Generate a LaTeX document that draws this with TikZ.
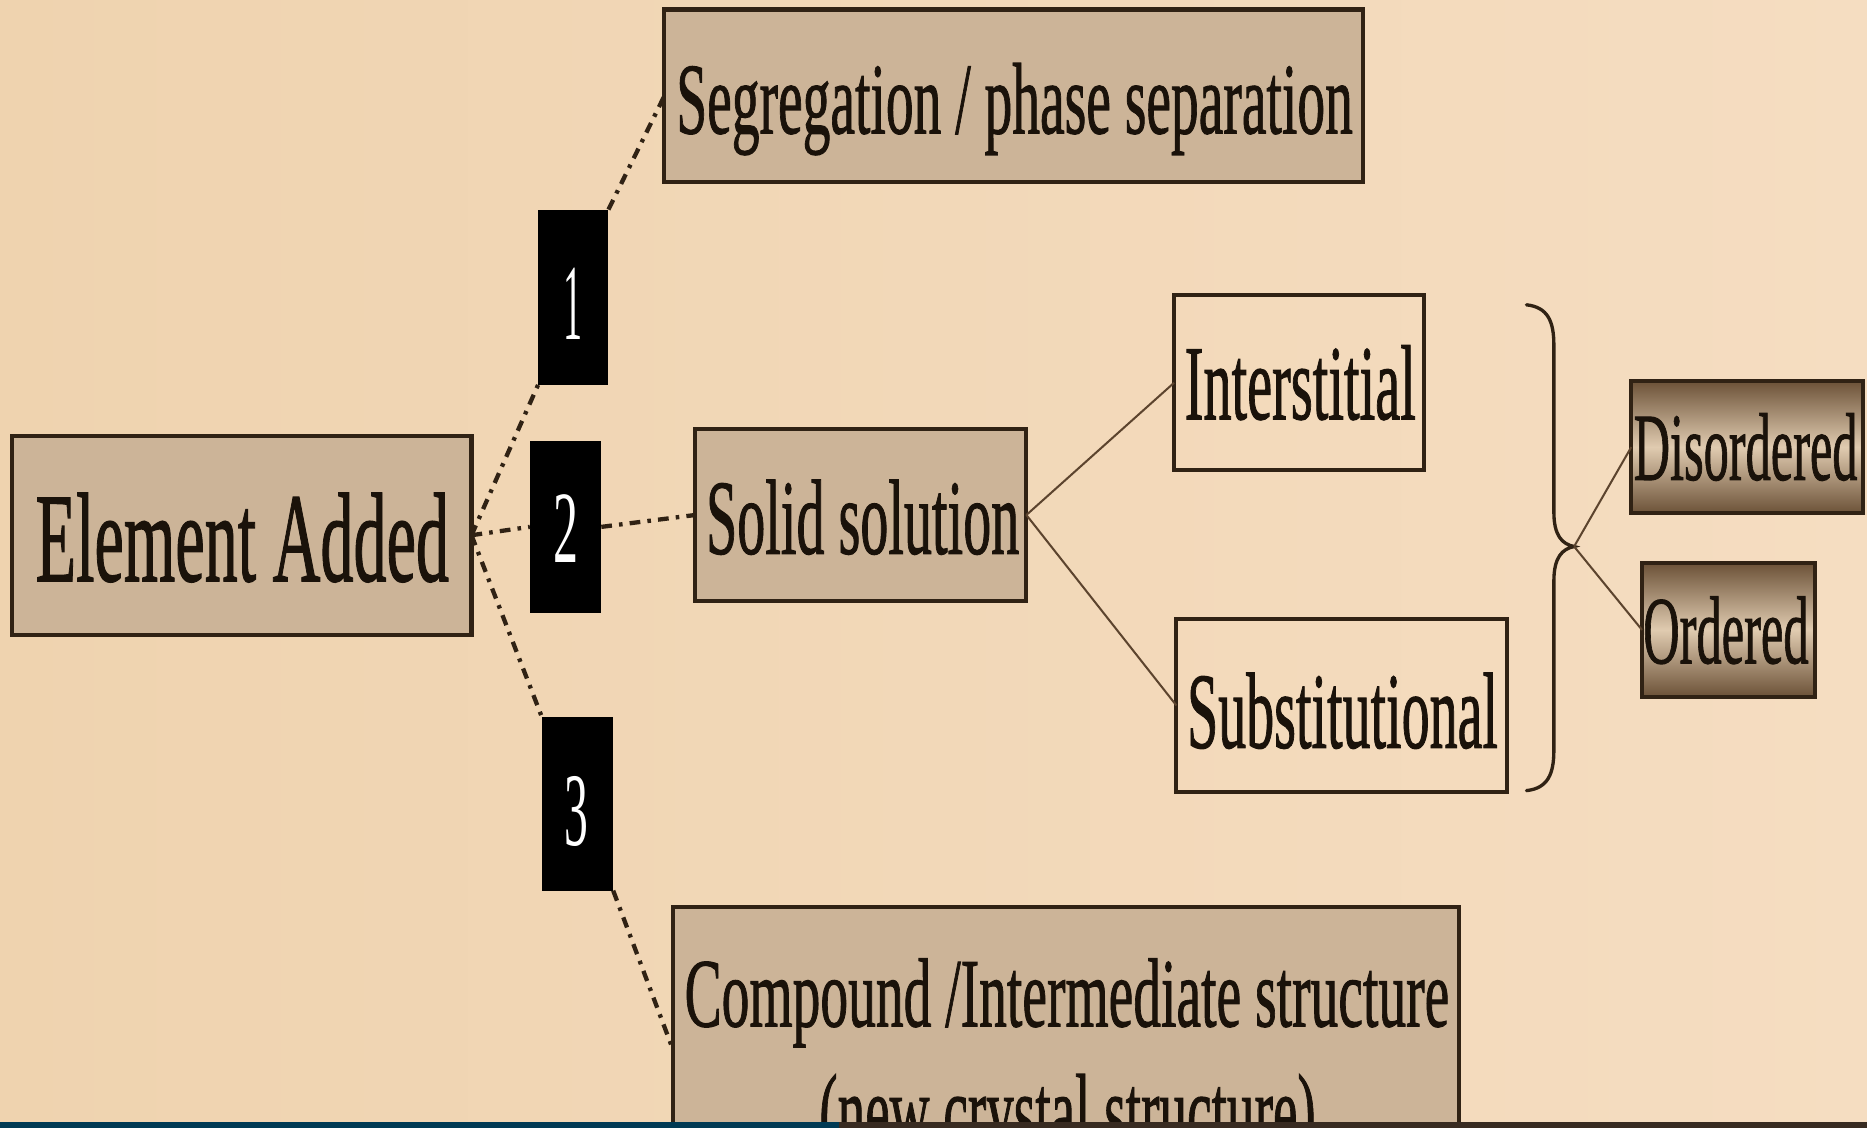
\documentclass[tikz,border=0pt]{standalone}
\usepackage{fontspec}
\usepackage{graphicx}
\setmainfont{Liberation Serif}[FakeBold=1.2]
\newfontfamily\numfont{Liberation Serif}
\usetikzlibrary{calc}

\newlength\un
\setlength\un{0.6pt}
% text squeezed to a given width and height above the baseline
\newcommand\fit[3]{\resizebox{#1\un}{#2\un}{#3}}

\definecolor{bgleft}{RGB}{239,211,175}
\definecolor{bgright}{RGB}{245,221,193}
\definecolor{boxfill}{RGB}{204,180,152}
\definecolor{rim}{RGB}{48,34,20}
\definecolor{ink}{RGB}{26,18,10}
\definecolor{thin}{RGB}{92,68,46}
\definecolor{shadedark}{RGB}{108,82,56}
\definecolor{shadelight}{RGB}{224,203,176}
\definecolor{barteal}{RGB}{0,58,84}
\definecolor{bardark}{RGB}{56,43,33}

\tikzset{
  tanbox/.style={draw=rim, line width=3.4\un, fill=boxfill, inner sep=0, outer sep=0},
  openbox/.style={draw=rim, line width=3.4\un, inner sep=0, outer sep=0},
  gradbox/.style={draw=rim, line width=3.4\un, inner sep=0, outer sep=0,
    top color=shadedark, bottom color=shadedark, middle color=shadelight},
  numbox/.style={fill=black, inner sep=0, outer sep=0},
  txt/.style={inner sep=0, outer sep=0, anchor=base west, text=ink},
  numtxt/.style={inner sep=0, outer sep=0, anchor=base, text=white, font=\numfont},
  dashdotline/.style={draw=rim, line width=3.6\un,
    dash pattern=on 9\un off 6\un on 3\un off 6\un},
  thinline/.style={draw=thin, line width=1.7\un},
  bracepath/.style={draw=rim, line width=2.8\un, line cap=round}
}

\begin{document}
\begin{tikzpicture}[x=0.6pt, y=-0.6pt]
\useasboundingbox (0,0) rectangle (1568,947);
\begin{scope}
\clip (0,0) rectangle (1568,947);

% background
\shade[left color=bgleft, right color=bgright] (0,0) rectangle (1568,947);

% boxes
\node[tanbox, minimum width=386\un, minimum height=167\un] (ea)  at (203,449.5) {};
\node[tanbox, minimum width=587\un, minimum height=145\un] (seg) at (851.5,80.5) {};
\node[numbox, minimum width=59\un,  minimum height=147\un] (n1)  at (481.5,249.5) {};
\node[numbox, minimum width=60\un,  minimum height=145\un] (n2)  at (475,442.5) {};
\node[numbox, minimum width=60\un,  minimum height=146\un] (n3)  at (485,675) {};
\node[tanbox, minimum width=278\un, minimum height=145\un] (sol) at (723,432.5) {};
\node[openbox, minimum width=210\un, minimum height=147\un] (int) at (1091,321.5) {};
\node[openbox, minimum width=278\un, minimum height=145\un] (sub) at (1127,592.5) {};
\node[gradbox, minimum width=195\un, minimum height=111\un] (dis) at (1467.5,375.5) {};
\node[gradbox, minimum width=145\un, minimum height=112\un] (ord) at (1451.5,529) {};
\node[tanbox, minimum width=660\un, minimum height=238\un] (cmp) at (895,881) {};

% labels
\node[txt] (tea)  at (30,488)   {\fit{347}{74}{Element Added}};
\node[txt] (tseg) at (568,112)  {\fit{568}{59}{Segregation / phase separation}};
\node[txt] (tsol) at (593,465)  {\fit{263}{62}{Solid solution}};
\node[txt] (tint) at (995,352)  {\fit{194}{62}{Interstitial}};
\node[txt] (tsub) at (997,628)  {\fit{261}{63}{Substitutional}};
\node[txt] (tdis) at (1372,403) {\fit{188}{56}{Disordered}};
\node[txt] (tord) at (1380,557) {\fit{139}{56}{Ordered}};
\node[txt] (tcmp) at (575,862)  {\fit{642}{57}{Compound /Intermediate structure}};
\node[txt] (tcmq) at (688,962)  {\fit{417}{60}{(new crystal structure)}};

\node[numtxt] (d1) at (481.5,285) {\fit{16}{60}{1}};
\node[numtxt] (d2) at (475,472)   {\fit{21}{57}{2}};
\node[numtxt] (d3) at (484,710)   {\fit{20}{58}{3}};

% branches out of the added element
\draw[dashdotline] (ea.east) -- (n1.south west);
\draw[dashdotline] (n1.north east) -- (seg.west);
\draw[dashdotline] (ea.east) -- (n2.west);
\draw[dashdotline] (n2.east) -- (sol.west);
\draw[dashdotline] (ea.east) -- (n3.north west);
\draw[dashdotline] (n3.south east) -- (cmp.west);

% solid solution types
\draw[thinline] (sol.east) -- (int.west);
\draw[thinline] (sol.east) -- (sub.west);

% brace grouping both types
\coordinate (tip) at (1322,459);
\draw[bracepath] (1282,256) .. controls (1300,258) and (1305,270) .. (1305,290)
  -- (1305,430) .. controls (1305,450) and (1312,457) .. (tip)
  .. controls (1312,461) and (1305,468) .. (1305,488)
  -- (1305,630) .. controls (1305,650) and (1300,662) .. (1282,664);
\draw[thinline] (tip) -- (dis.west);
\draw[thinline] (tip) -- (ord.west);

% bottom strip
\fill[barteal] (0,942) rectangle (705,947);
\fill[bardark] (705,942) rectangle (1568,947);
\end{scope}
\end{tikzpicture}
\end{document}
